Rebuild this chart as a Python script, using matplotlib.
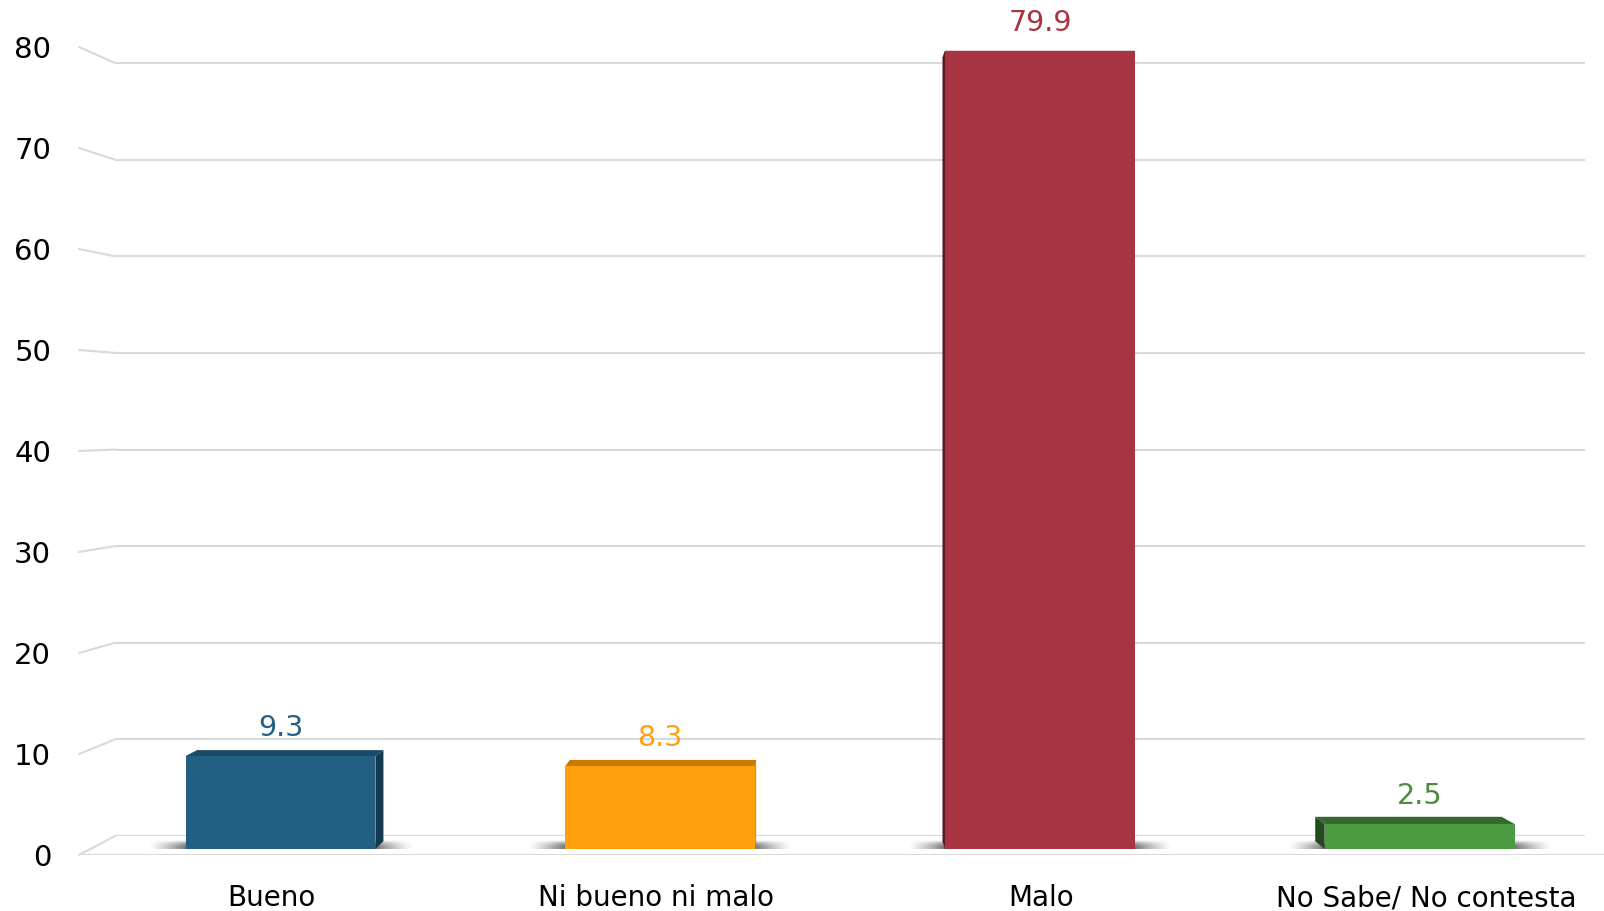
import numpy as np
import matplotlib.pyplot as plt
from matplotlib.patches import Polygon, ConnectionPatch

# datos
categories = ['Bueno', 'Ni bueno ni malo', 'Malo', 'No Sabe/ No contesta']
values = [9.3, 8.3, 79.9, 2.5]
yticks = [0, 10, 20, 30, 40, 50, 60, 70, 80]

front_colors = ['#235f83', '#ffa00c', '#a83341', '#4c9a42']
top_colors = ['#1a4a68', '#c97a00', '#7d2430', '#346b2d']
side_colors = ['#143a52', '#d08300', '#5a1720', '#234a1f']
label_colors = ['#235f83', '#ffa00c', '#a83341', '#4c8a3e']

grid_color = '#d9d9d9'
plt.rcParams['font.family'] = 'DejaVu Sans'

W, H = 1604, 911
fig = plt.figure(figsize=(W / 100, H / 100), dpi=100)


def px_axes(left, right, bottom, top):
    # ejes posicionados en pixeles (desde arriba)
    return fig.add_axes([left / W, 1 - bottom / H, (right - left) / W, (bottom - top) / H])


# pared del fondo
ax_back = px_axes(115, 1585, 836, 0)
ax_back.set_xlim(0, 1)
ax_back.set_ylim(0, 836 / 9.6625)
for v in yticks:
    ax_back.axhline(v, color=grid_color, lw=1.5)
ax_back.set_axis_off()

# plano frontal: etiquetas de ejes
ax_front = px_axes(79, 1604, 855, 0)
ax_front.set_xlim(-0.4987, 3.4623)
ax_front.set_ylim(0, 855 / 10.1)
ax_front.patch.set_alpha(0)
ax_front.axhline(0, color=grid_color, lw=1.5)
for s in ax_front.spines.values():
    s.set_visible(False)
ax_front.set_yticks(yticks)
ax_front.set_xticks(range(len(categories)))
ax_front.set_xticklabels(categories)
ax_front.tick_params(axis='y', length=0, pad=20, labelsize=21)
ax_front.tick_params(axis='x', length=0, pad=21, labelsize=20)

# lineas de la pared lateral
for v in yticks:
    con = ConnectionPatch(xyA=(ax_front.get_xlim()[0], v), coordsA=ax_front.transData,
                          xyB=(0, v), coordsB=ax_back.transData,
                          color=grid_color, lw=1.5)
    fig.add_artist(con)

# barras
ax_bar = px_axes(0, 1604, 849, 0)
xlim = (-280.5 / 379.7, (W - 280.5) / 379.7)
ylim = (0, 849 / 9.99)
ax_bar.set_xlim(*xlim)
ax_bar.set_ylim(*ylim)
ax_bar.set_axis_off()

width = 0.5
x = np.arange(len(categories))

# punto de fuga (pixeles -> datos)
vp = ax_bar.transData.inverted().transform((810, H - 431))
k = 0.0184


def back(p):
    p = np.asarray(p, dtype=float)
    return p + k * (vp - p)


for i, v in enumerate(values):
    l, r = x[i] - width / 2, x[i] + width / 2

    # sombra
    nx, ny = 240, 24
    ext = 0.1
    xs = np.linspace(l - ext, r + ext, nx)
    dist = np.clip(np.maximum(l - xs, xs - r) / ext, 0, 1)
    t = np.linspace(0, 1, ny)
    ay = np.clip(1 - ((t - 0.35) / 0.65) ** 2, 0, 1)
    alpha = 0.85 * np.outer(ay, (1 - dist) ** 1.3)
    img = np.zeros((ny, nx, 4))
    img[..., :3] = 0.35
    img[..., 3] = alpha
    ax_bar.imshow(img, extent=(l - ext, r + ext, -0.3, 0.9), origin='lower',
                  aspect='auto', zorder=1, interpolation='bilinear')

    # cara superior
    top = [(l, v), (r, v), back((r, v)), back((l, v))]
    ax_bar.add_patch(Polygon(top, closed=True, facecolor=top_colors[i],
                             edgecolor='none', zorder=2))
    # cara lateral
    if r < vp[0]:
        side = [(r, 0), (r, v), back((r, v)), back((r, 0))]
    else:
        side = [(l, 0), (l, v), back((l, v)), back((l, 0))]
    ax_bar.add_patch(Polygon(side, closed=True, facecolor=side_colors[i],
                             edgecolor='none', zorder=2))

ax_bar.bar(x, values, width=width, color=front_colors, zorder=3)

for i, v in enumerate(values):
    ax_bar.annotate(f'{v}', (x[i], v), xytext=(0, 28), textcoords='offset pixels',
                    ha='center', va='center', color=label_colors[i], fontsize=20.5)

ax_bar.set_xlim(*xlim)
ax_bar.set_ylim(*ylim)

fig.savefig('out.png', dpi=100, facecolor='white')
